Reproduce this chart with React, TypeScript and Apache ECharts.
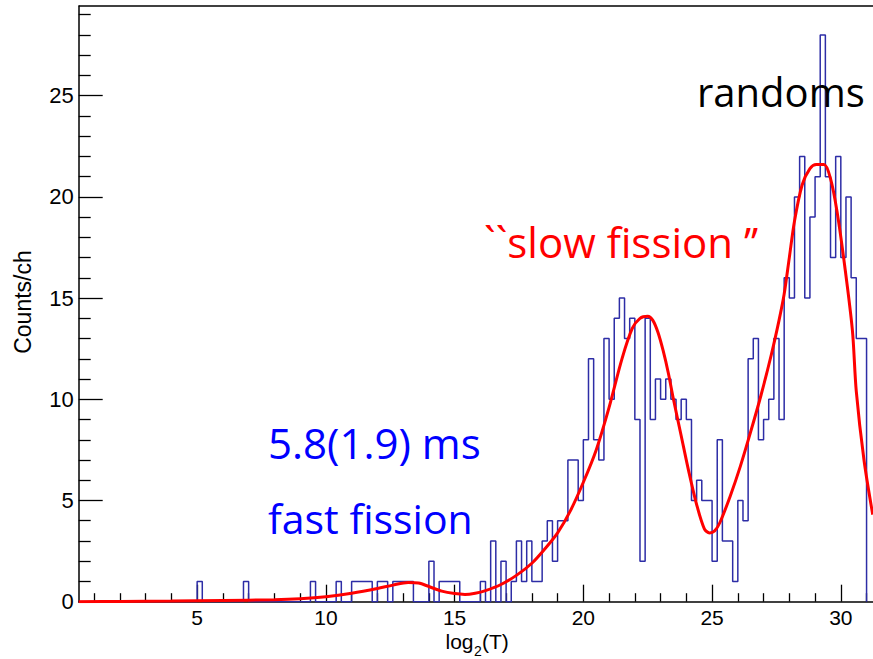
import React, { useEffect, useRef } from "react";
import * as echarts from "echarts";

// Histogram: bins of width 0.2 starting at 0.4 (log2(T))
const binStart = 0.4;
const binWidth = 0.2;
const counts = [
  0, 0, 0, 0, 0, 0, 0, 0, 0, 0,
  0, 0, 0, 0, 0, 0, 0, 0, 0, 0,
  0, 0, 0, 1, 0, 0, 0, 0, 0, 0,
  0, 0, 1, 0, 0, 0, 0, 0, 0, 0,
  0, 0, 0, 0, 0, 1, 0, 0, 0, 0,
  1, 0, 0, 1, 1, 1, 1, 0, 1, 1,
  0, 1, 1, 1, 1, 0, 0, 0, 2, 0,
  1, 1, 1, 1, 0, 0, 0, 0, 1, 0,
  3, 0, 2, 0, 1, 3, 1, 3, 1, 1,
  3, 4, 2, 4, 4, 7, 7, 5, 8, 12,
  8, 7, 13, 10, 14, 15, 13, 14, 9, 2,
  14, 9, 11, 10, 11, 10, 9, 10, 9, 5,
  6, 5, 5, 2, 8, 3, 3, 1, 5, 4,
  12, 13, 8, 9, 10, 13, 9, 16, 15, 20,
  22, 15, 19, 21, 28, 21, 17, 22, 17, 20,
  16, 13, 13,
];

// Fit curve
const fitX = [0.4, 2, 4, 6, 8, 9, 10, 11, 12, 12.6, 13.2, 13.6, 14.0, 14.5, 15.0, 15.4, 15.8, 16.2, 16.8, 17.4, 18.0, 18.5, 19.0, 19.5, 20.0, 20.5, 21.0, 21.5, 21.9, 22.2, 22.5, 22.7, 22.9, 23.1, 23.3, 23.5, 23.8, 24.1, 24.4, 24.7, 24.9, 25.1, 25.3, 25.7, 26.1, 26.5, 26.9, 27.3, 27.6, 27.8, 28.0, 28.2, 28.5, 28.8, 29.05, 29.35, 29.6, 29.85, 30.15, 30.45, 30.6, 30.9, 31.24];
const fitY = [0.0, 0.01, 0.03, 0.06, 0.1, 0.15, 0.25, 0.42, 0.65, 0.82, 0.95, 0.92, 0.75, 0.52, 0.4, 0.36, 0.42, 0.55, 0.85, 1.3, 1.9, 2.6, 3.4, 4.5, 5.9, 7.5, 9.6, 12.0, 13.5, 14.0, 14.1, 13.9, 13.3, 12.4, 11.3, 10.0, 8.2, 6.4, 4.8, 3.6, 3.4, 3.5, 3.9, 5.2, 6.7, 8.4, 10.2, 12.2, 13.9, 15.2, 17.0, 18.8, 20.6, 21.4, 21.6, 21.6, 20.9, 19.3, 16.6, 13.4, 10.4, 7.0, 4.3];

const xMajorTicks = [5, 10, 15, 20, 25, 30];
const xMinorTicks = [1, 2, 3, 4, 6, 7, 8, 9, 11, 12, 13, 14, 16, 17, 18, 19, 21, 22, 23, 24, 26, 27, 28, 29, 31];
const yMajorTicks = [0, 5, 10, 15, 20, 25];
const yMinorTicks = [1, 2, 3, 4, 6, 7, 8, 9, 11, 12, 13, 14, 16, 17, 18, 19, 21, 22, 23, 24, 26, 27, 28, 29];

const X_MIN = 0.4;
const X_MAX = 31.25;
const Y_MIN = 0;
const Y_MAX = 29.43;

export default function App() {
  const ref = useRef<HTMLDivElement>(null);
  useEffect(() => {
    const chart = echarts.init(ref.current!, null, { renderer: "svg" });
    const hist: number[][] = [[binStart, 0]];
    counts.forEach((c, i) => {
      const lo = +(binStart + i * binWidth).toFixed(3);
      const hi = +(binStart + (i + 1) * binWidth).toFixed(3);
      hist.push([lo, c], [hi, c]);
    });
    hist.push([+(binStart + counts.length * binWidth).toFixed(3), 0]);
    const fit = fitX.map((x, i) => [x, fitY[i]]);

    chart.setOption({
      animation: false,
      grid: { left: 78.7, top: 6, right: 0, bottom: 57.3, containLabel: false },
      xAxis: [
        {
          type: "value", min: X_MIN, max: X_MAX, position: "bottom",
          axisLine: { show: true, onZero: false, lineStyle: { color: "#000", width: 1.5 } },
          axisTick: { show: true, inside: true, length: 17, customValues: xMajorTicks, lineStyle: { color: "#000", width: 1.3 } },
          axisLabel: { show: true, customValues: xMajorTicks, margin: 8, lineHeight: 15, fontFamily: "Liberation Sans", fontSize: 21, color: "#000" },
          splitLine: { show: false },
        },
        {
          type: "value", min: X_MIN, max: X_MAX, position: "bottom", offset: 0,
          axisLine: { show: false, onZero: false },
          axisTick: { show: true, inside: true, length: 8.5, customValues: xMinorTicks, lineStyle: { color: "#000", width: 1.3 } },
          axisLabel: { show: false },
          splitLine: { show: false },
        },
      ],
      yAxis: [
        {
          type: "value", min: Y_MIN, max: Y_MAX, position: "left",
          axisLine: { show: true, onZero: false, lineStyle: { color: "#000", width: 1.5 } },
          axisTick: { show: true, inside: true, length: 24, customValues: yMajorTicks, lineStyle: { color: "#000", width: 1.3 } },
          axisLabel: { show: true, customValues: yMajorTicks, margin: 5, fontFamily: "Liberation Sans", fontSize: 22, color: "#000" },
          splitLine: { show: false },
        },
        {
          type: "value", min: Y_MIN, max: Y_MAX, position: "left", offset: 0,
          axisLine: { show: false, onZero: false },
          axisTick: { show: true, inside: true, length: 12, customValues: yMinorTicks, lineStyle: { color: "#000", width: 1.3 } },
          axisLabel: { show: false },
          splitLine: { show: false },
        },
      ],
      series: [
        {
          type: "line", name: "hist", data: hist, xAxisIndex: 0, yAxisIndex: 0,
          symbol: "none", showSymbol: false, z: 2,
          lineStyle: { color: "#2d2da6", width: 1.5 },
        },
        {
          type: "line", name: "fit", data: fit, xAxisIndex: 0, yAxisIndex: 0,
          symbol: "none", showSymbol: false, smooth: 0.3, z: 3,
          lineStyle: { color: "#ff0000", width: 3 },
        },
      ],
      graphic: [
        { type: "line", shape: { x1: 78.7, y1: 6, x2: 873, y2: 6 }, style: { stroke: "#000", lineWidth: 1.5 }, z: 10 },
        { type: "text", x: 697, y: 91, style: { text: "randoms", font: "40px 'Open Sans'", fill: "#000", align: "left", verticalAlign: "middle" }, z: 10 },
        { type: "text", x: 484, y: 241, style: { text: "``slow fission \u2019\u2019", font: "42px 'Open Sans'", fill: "#ff0000", align: "left", verticalAlign: "middle" }, z: 10 },
        { type: "text", x: 268, y: 442, style: { text: "5.8(1.9) ms", font: "42px 'Open Sans'", fill: "#0000ff", align: "left", verticalAlign: "middle" }, z: 10 },
        { type: "text", x: 268, y: 517.5, style: { text: "fast fission", font: "41px 'Open Sans'", fill: "#0000ff", align: "left", verticalAlign: "middle" }, z: 10 },
        { type: "text", x: 22.5, y: 302, rotation: Math.PI / 2, style: { text: "Counts/ch", font: "23px 'Liberation Sans'", fill: "#000", align: "center", verticalAlign: "middle" }, z: 10 },
        { type: "text", x: 445.5, y: 641.5, style: { text: "log", font: "21px 'Liberation Sans'", lineHeight: 15, fill: "#000", align: "left", verticalAlign: "middle" }, z: 10 },
        { type: "text", x: 474, y: 650.5, style: { text: "2", font: "14px 'Liberation Sans'", lineHeight: 10, fill: "#000", align: "left", verticalAlign: "middle" }, z: 10 },
        { type: "text", x: 482, y: 641.5, style: { text: "(T)", font: "21px 'Liberation Sans'", lineHeight: 15, fill: "#000", align: "left", verticalAlign: "middle" }, z: 10 },
      ],
    });
    return () => chart.dispose();
  }, []);
  return <div ref={ref} style={{ position: "absolute", left: 0, top: 0, width: 873, height: 659 }} />;
}
